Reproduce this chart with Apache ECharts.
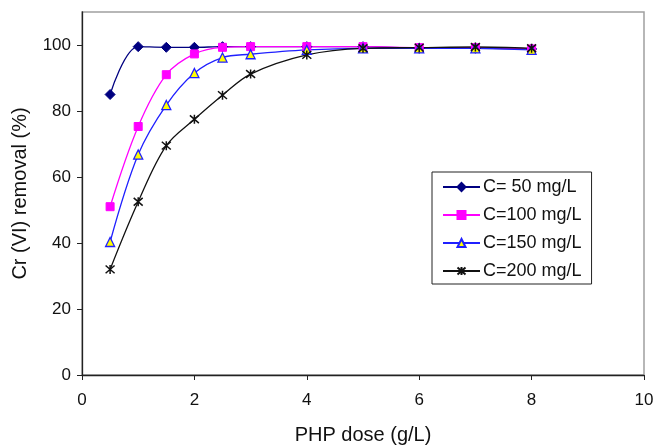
<!DOCTYPE html>
<html>
<head>
<meta charset="utf-8">
<script src="https://cdn.jsdelivr.net/npm/echarts@6/dist/echarts.min.js"></script>
<style>
  html, body { margin: 0; padding: 0; background: #fff; }
  #chart { width: 657px; height: 445px; }
</style>
</head>
<body>
<div id="chart"></div>
<script>
// PHP dose (g/L)
const doses = [0.5, 1, 1.5, 2, 2.5, 3, 4, 5, 6, 7, 8];

// Cr(VI) removal (%) per initial concentration
const c50 = [85, 99.5, 99.3, 99.3, 99.5, 99.5, 99.5, 99.5, 99, 99, 98.8];
const c100 = [51, 75.3, 91, 97.3, 99.3, 99.5, 99.5, 99.5, 99.2, 99.2, 98.8];
const c150 = [40.3, 66.8, 81.8, 91.5, 96.2, 97.2, 98.5, 99, 99, 99, 98.5];
const c200 = [32, 52.5, 69.5, 77.5, 84.8, 91.2, 97, 99, 99.2, 99.4, 99];

const seriesNames = ['C= 50 mg/L', 'C=100 mg/L', 'C=150 mg/L', 'C=200 mg/L'];
const yTicks = [0, 20, 40, 60, 80, 100];
const xTicks = [0, 2, 4, 6, 8, 10];

const FONT = 'Liberation Sans, Arial, sans-serif';
const star = 'path://M0,-5L0,5M-4.3,-4.3L4.3,4.3M-4.3,4.3L4.3,-4.3';

function pairs(ys) {
  return doses.map((d, i) => [d, ys[i]]);
}

const chart = echarts.init(document.getElementById('chart'), null, { renderer: 'canvas' });

function line(name, ys, color, symbol, size, itemStyle) {
  return {
    name: name,
    type: 'line',
    smooth: 0.35,
    data: pairs(ys),
    symbol: symbol,
    symbolSize: size,
    showAllSymbol: true,
    lineStyle: { color: color, width: 1.3 },
    itemStyle: itemStyle,
    emphasis: { disabled: true },
    z: 3
  };
}

chart.setOption({
  animation: false,
  backgroundColor: '#fff',
  grid: {
    left: 82, right: 13, top: 12, bottom: 70,
    outerBoundsMode: 'none',
    containLabel: false,
    show: true, borderColor: '#a0a0a0', borderWidth: 1.5
  },
  legend: {
    orient: 'vertical',
    left: 432, top: 172,
    padding: [6, 10, 4, 10],
    itemGap: 10,
    itemWidth: 37, itemHeight: 10,
    borderColor: '#222', borderWidth: 1,
    backgroundColor: '#fff',
    textStyle: { fontFamily: FONT, fontSize: 18, lineHeight: 18, color: '#111', padding: [0, 0, 0, -2] },
    data: seriesNames
  },
  xAxis: {
    type: 'value',
    min: 0, max: 10, interval: 2,
    name: 'PHP dose (g/L)',
    nameLocation: 'middle',
    nameGap: 50,
    nameTextStyle: { fontFamily: FONT, fontSize: 20, color: '#111' },
    axisLine: { lineStyle: { color: '#222', width: 1.3 } },
    axisTick: { show: true, length: 5, lineStyle: { color: '#222' } },
    axisLabel: {
      fontFamily: FONT, fontSize: 17, color: '#111', margin: 17,
      customValues: xTicks
    },
    splitLine: { show: false }
  },
  yAxis: {
    type: 'value',
    min: 0, max: 110, interval: 20,
    name: 'Cr (VI) removal (%)',
    nameLocation: 'middle',
    nameGap: 52,
    nameTextStyle: { fontFamily: FONT, fontSize: 20, color: '#111' },
    axisLine: { show: true, lineStyle: { color: '#222', width: 1.3 } },
    axisTick: { show: true, length: 5, lineStyle: { color: '#222' }, customValues: yTicks },
    axisLabel: {
      fontFamily: FONT, fontSize: 17, color: '#111', margin: 11,
      customValues: yTicks
    },
    splitLine: { show: false }
  },
  series: [
    line(seriesNames[0], c50, '#000080', 'diamond', 10,
      { color: '#000080', borderColor: '#000080', borderWidth: 1 }),
    line(seriesNames[1], c100, '#ff00ff', 'rect', 8,
      { color: '#ff00ff', borderColor: '#ff00ff', borderWidth: 1 }),
    line(seriesNames[2], c150, '#2020ff', 'triangle', 9,
      { color: '#ffff00', borderColor: '#2020ff', borderWidth: 1.3 }),
    line(seriesNames[3], c200, '#111111', star, 9,
      { color: 'none', borderColor: '#111111', borderWidth: 1.5 })
  ]
});
</script>
</body>
</html>
